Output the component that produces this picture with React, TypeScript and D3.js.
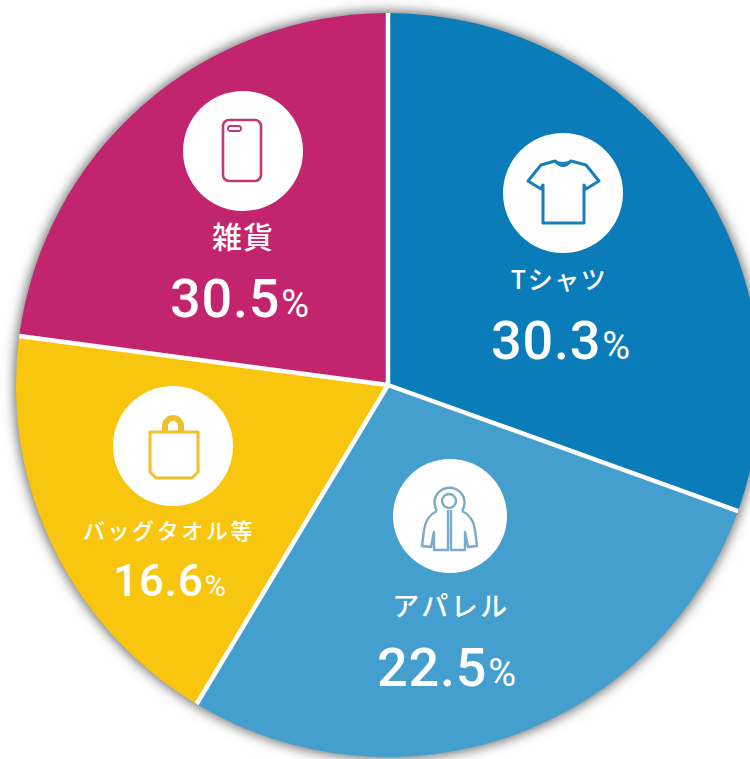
import React from "react";
import * as d3 from "d3";

const categories = ["Tシャツ", "アパレル", "バッグタオル等", "雑貨"];
// printed figures
const printedPct = ["30.3", "22.5", "16.6", "30.5"];
// slice sizes as drawn; the picture's wedges don't follow the printed figures
const sliceShares = [30.5, 28.1, 18.5, 22.9];
const colors = ["#0a7cba", "#459fce", "#f9c60f", "#c2246d"];
const iconColors = ["#1a7fb8", "#7aabc9", "#ecc12c", "#bd3a76"];

const width = 750;
const height = 759;
const cx = 388;
const cy = 385;
const radius = 372;

// icon circle, label and value placement for each slice
const layout = [
  { ix: 563, iy: 193, ir: 60, lx: 559, ly: 289, ls: 25, sp: 1.5, vx: 561, vy: 359, vs: 54, ps: 38 },
  { ix: 450, iy: 516, ir: 57, lx: 451, ly: 616, ls: 27, sp: 2.5, vx: 447, vy: 686, vs: 54, ps: 38 },
  { ix: 173, iy: 446, ir: 60, lx: 169, ly: 539, ls: 22, sp: 2.6, vx: 170, vy: 596, vs: 44, ps: 29 },
  { ix: 243, iy: 151, ir: 60, lx: 243, ly: 248, ls: 30, sp: 1, vx: 240, vy: 317, vs: 54, ps: 38 },
];

const Shirt = ({ c }: { c: string }) => (
  <g fill="none" stroke={c} strokeWidth={3} strokeLinejoin="round">
    <path d="M-8,-32 L-22,-28 L-35,-12 L-22,-4 L-20,-8 V30 H21 V-8 L23,-4 L36,-12 L23,-28 L8,-32 Q0,-23 -8,-32 Z" />
    <path d="M-8,-32 Q0,-28 8,-32" strokeWidth={2} />
  </g>
);

const Jacket = ({ c }: { c: string }) => (
  <g fill="none" stroke={c} strokeWidth={2.4} strokeLinejoin="round">
    <path d="M-13,-5 A15,15 0 1 1 12,-5" />
    <circle cx={-1} cy={-15} r={7} />
    <path d="M-13,-5 Q-24,0 -26,14 L-28,30 L-19,31 L-16,16 V34 H-2 V-6 M1,-6 V34 H15 V16 L18,31 L27,30 L25,14 Q23,0 12,-5" />
  </g>
);

const Bag = ({ c }: { c: string }) => (
  <g fill="none" stroke={c} strokeLinejoin="round">
    <path d="M-23,-14 H25 V26 L19,32 H-17 L-23,26 Z" strokeWidth={3} />
    <path d="M-8,-14 V-20 A8,8 0 0 1 8,-20 V-14" strokeWidth={6} />
  </g>
);

const Phone = ({ c }: { c: string }) => (
  <g fill="none" stroke={c} strokeWidth={2.6}>
    <rect x={-20} y={-31} width={38} height={61} rx={6} />
    <rect x={-15} y={-25} width={13} height={5} rx={2.5} strokeWidth={1.8} />
  </g>
);

const icons = [Shirt, Jacket, Bag, Phone];

export default function App() {
  const pie = d3.pie<number>().sort(null).value((d) => d);
  const arc = d3.arc<d3.PieArcDatum<number>>().innerRadius(0).outerRadius(radius);
  const arcs = pie(sliceShares);

  return (
    <svg
      width={width}
      height={height}
      style={{ position: "fixed", left: 0, top: 0, background: "#fff" }}
    >
      <defs>
        <filter id="pieShadow" x="-10%" y="-10%" width="120%" height="120%">
          <feGaussianBlur stdDeviation={6} />
        </filter>
      </defs>
      {/* soft grey halo round the rim */}
      <circle cx={cx} cy={cy} r={radius + 2} fill="#6f6f6f" filter="url(#pieShadow)" />
      <g transform={`translate(${cx},${cy})`}>
        {arcs.map((d, i) => (
          <path key={categories[i]} d={arc(d) as string} fill={colors[i]} />
        ))}
        {/* white separators between wedges only, the outer rim has none */}
        {arcs.map((d, i) => {
          const [x, y] = d3.pointRadial(d.startAngle, radius);
          return <line key={i} x1={0} y1={0} x2={x} y2={y} stroke="#fff" strokeWidth={4.5} />;
        })}
      </g>
      {categories.map((name, i) => {
        const p = layout[i];
        const Icon = icons[i];
        return (
          <g key={name} fill="#fff" textAnchor="middle" fontFamily="'Noto Sans CJK JP', 'Noto Sans', sans-serif">
            <circle cx={p.ix} cy={p.iy} r={p.ir} fill="#fff" />
            <g transform={`translate(${p.ix},${p.iy})`}>
              <Icon c={iconColors[i]} />
            </g>
            <text x={p.lx} y={p.ly} fontSize={p.ls} fontWeight={500} letterSpacing={p.sp}>
              {name}
            </text>
            <text x={p.vx} y={p.vy} fontFamily="Roboto, sans-serif" fontWeight={500} fontSize={p.vs} letterSpacing={0.8}>
              {printedPct[i]}
              <tspan fontSize={p.ps} fontWeight={400} dx={1}>%</tspan>
            </text>
          </g>
        );
      })}
    </svg>
  );
}
